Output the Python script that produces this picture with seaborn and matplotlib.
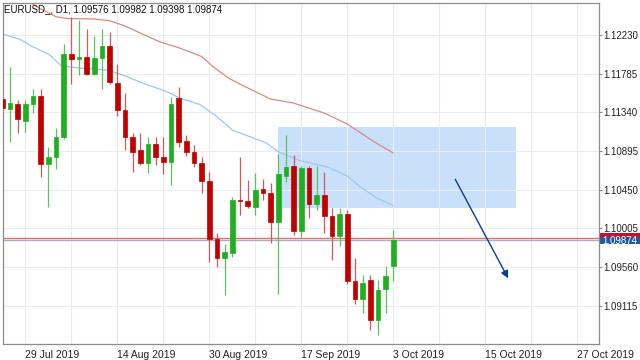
import numpy as np
import pandas as pd
import matplotlib
matplotlib.use('Agg')
import matplotlib.pyplot as plt
import matplotlib.transforms as mtransforms
from matplotlib.patches import Rectangle
import seaborn as sns

sns.set_style('white')
plt.rcParams['font.family'] = ['Liberation Sans', 'DejaVu Sans']

# daily candles, first bar sits 3 bars before 29 Jul 2019
first_bar = -3
opens = [1.11490, 1.11375, 1.11440, 1.11244, 1.11440, 1.11528, 1.10742, 1.10830, 1.11060, 1.12011,
         1.11958, 1.11973, 1.11781, 1.11969, 1.12107, 1.11681, 1.11367, 1.11052, 1.10907, 1.10753,
         1.10972, 1.10822, 1.10772, 1.11501, 1.11010, 1.10880, 1.10753, 1.10550, 1.09878, 1.09668,
         1.09725, 1.10331, 1.10320, 1.10254, 1.10454, 1.10416, 1.10082, 1.10611, 1.10726, 1.09974,
         1.10703, 1.10285, 1.10389, 1.10147, 1.09921, 1.10166, 1.09399, 1.09188, 1.09410, 1.08950,
         1.09303, 1.09576]
highs = [1.11520, 1.11866, 1.11482, 1.11482, 1.11605, 1.11605, 1.10945, 1.11156, 1.12126, 1.12440,
         1.12403, 1.12295, 1.12218, 1.12295, 1.12268, 1.11896, 1.11566, 1.11106, 1.11106, 1.11060,
         1.11060, 1.11052, 1.11520, 1.11628, 1.11079, 1.10964, 1.10830, 1.10657, 1.09948, 1.09825,
         1.10370, 1.10830, 1.10561, 1.10646, 1.10569, 1.10531, 1.10861, 1.11079, 1.10849, 1.10726,
         1.10726, 1.10726, 1.10657, 1.10235, 1.10235, 1.10216, 1.09660, 1.09468, 1.09468, 1.09410,
         1.09572, 1.09982]
lows = [1.11367, 1.11002, 1.11106, 1.11118, 1.11336, 1.10592, 1.10254, 1.10684, 1.11029, 1.11666,
        1.11770, 1.11770, 1.11770, 1.11605, 1.11670, 1.11298, 1.10907, 1.10657, 1.10734, 1.10646,
        1.10734, 1.10630, 1.10504, 1.10945, 1.10838, 1.10715, 1.10408, 1.09622, 1.09564, 1.09238,
        1.09679, 1.10159, 1.10235, 1.10159, 1.10331, 1.09840, 1.09249, 1.10542, 1.09928, 1.09902,
        1.10120, 1.10216, 1.09948, 1.09641, 1.09802, 1.09365, 1.09134, 1.09035, 1.08835, 1.08778,
        1.09027, 1.09398]
closes = [1.11386, 1.11444, 1.11263, 1.11432, 1.11532, 1.10742, 1.10830, 1.11060, 1.12011, 1.11954,
          1.11973, 1.11781, 1.11969, 1.12103, 1.11685, 1.11367, 1.11052, 1.10880, 1.10753, 1.10976,
          1.10830, 1.10772, 1.11432, 1.11002, 1.10887, 1.10753, 1.10550, 1.09882, 1.09668, 1.09729,
          1.10331, 1.10324, 1.10266, 1.10446, 1.10408, 1.10082, 1.10630, 1.10715, 1.09974, 1.10696,
          1.10285, 1.10389, 1.10147, 1.09921, 1.10170, 1.09399, 1.09188, 1.09372, 1.08950, 1.09295,
          1.09457, 1.09874]

# moving averages (bar position, price)
slow_ma_bar = [-3, 0, 2, 4, 5.5, 9, 11, 13, 15, 17.5, 20, 23, 24.5, 26.5, 28.5, 32, 35, 39, 42, 45.5, 48]
slow_ma = [1.12800, 1.12640, 1.12530, 1.12441, 1.12420, 1.12414, 1.12395, 1.12334, 1.12253, 1.12153,
           1.12084, 1.11983, 1.11865, 1.11735, 1.11643, 1.11494, 1.11447, 1.11332, 1.11206, 1.11002, 1.10872]
fast_ma_bar = [-3, -0.7, 1, 3.2, 4.7, 7.5, 9.7, 11, 12.7, 15.4, 18.5, 20.2, 22.8, 25, 27, 29.3, 31.5,
               33, 35.8, 39.4, 42, 43.7, 45.9, 48]
fast_ma = [1.12242, 1.12180, 1.12095, 1.12000, 1.11873, 1.11847, 1.11835, 1.11819, 1.11770, 1.11674,
           1.11577, 1.11502, 1.11430, 1.11290, 1.11137, 1.11060, 1.10984, 1.10887, 1.10786, 1.10711,
           1.10607, 1.10484, 1.10351, 1.10268]

date_ticks = [0, 12, 24, 36, 48, 60, 72]
date_labels = ['29 Jul 2019', '14 Aug 2019', '30 Aug 2019', '17 Sep 2019',
               '3 Oct 2019', '15 Oct 2019', '27 Oct 2019']
grid_bars = [6, 18, 30, 42, 54, 66]
price_ticks = [1.12230, 1.11785, 1.11340, 1.10895, 1.10450, 1.10005, 1.09560, 1.09115]

bid = 1.09874
ask = 1.09894
zone_bars = [33, 64]
zone_prices = [1.10236, 1.11168]
arrow_from = (56.1, 1.10569)
arrow_to = (63.0, 1.09430)

df = pd.DataFrame({'open': opens, 'high': highs, 'low': lows, 'close': closes})
df['bar'] = np.arange(first_bar, first_bar + len(df))
df['up'] = df['close'] >= df['open']

fig = plt.figure(figsize=(6.4, 3.6), dpi=100)
ax = fig.add_axes([2.7 / 640, 16 / 360, 596.3 / 640, 341.3 / 360])

# supply zone
ax.add_patch(Rectangle((zone_bars[0], zone_prices[0]), zone_bars[1] - zone_bars[0],
                       zone_prices[1] - zone_prices[0], color='#c8e0fa', lw=0, zorder=0.5))

# moving averages
sns.lineplot(x=slow_ma_bar, y=slow_ma, ax=ax, color='#d98a84', lw=0.9, zorder=1)
sns.lineplot(x=fast_ma_bar, y=fast_ma, ax=ax, color='#9cc9e6', lw=0.9, zorder=1)

# candles
wick_col = np.where(df['up'], '#5cc25c', '#cf5a5a')
body_col = np.where(df['up'], '#1faf1f', '#c20000')
ax.vlines(df['bar'], df['low'], df['high'], colors=wick_col, lw=0.9, zorder=2)
body_lo = np.minimum(df['open'], df['close'])
body_h = np.abs(df['close'] - df['open'])
ax.bar(df['bar'], body_h, bottom=body_lo, width=0.6, color=body_col,
       edgecolor=body_col, lw=0.5, zorder=3)

# bid / ask lines
ax.axhline(ask, color='#e07070', lw=1, zorder=1.5)
ax.axhline(bid, color='#a8b0bd', lw=1, zorder=1.5)

ax.annotate('', xy=arrow_to, xytext=arrow_from,
            arrowprops=dict(arrowstyle='-|>', color='#0b3d91', lw=1,
                            mutation_scale=11, shrinkA=0, shrinkB=0), zorder=4)

ax.set_xticks(date_ticks)
ax.set_xticklabels(date_labels, ha='left', fontsize=7.5, color='#222222')
ax.set_xticks(grid_bars, minor=True)
ax.yaxis.tick_right()
ax.set_yticks(price_ticks)
ax.set_yticklabels(['%.5f' % p for p in price_ticks], fontsize=7, color='#222222')
ax.tick_params(axis='x', which='major', length=3, width=0.8, color='#8c8c8c', pad=1)
ax.tick_params(axis='x', which='minor', length=0)
ax.tick_params(axis='y', length=2, width=0.8, color='#8c8c8c', pad=1)
ax.grid(True, which='both', color='#ececec', lw=0.8)
ax.set_axisbelow(True)
for s in ax.spines.values():
    s.set_color('#8c8c8c')
    s.set_linewidth(0.9)

# price label at right edge
trans = mtransforms.blended_transform_factory(ax.transAxes, ax.transData)
ax.add_patch(Rectangle((1.0, 1.09909), 0.07, 0.00040, transform=trans,
                       clip_on=False, color='#c8102e', lw=0))
ax.add_patch(Rectangle((1.0, 1.09821), 0.07, 0.00088, transform=trans,
                       clip_on=False, color='#1f5b9a', lw=0))
ax.text(1.0 + 3 / 596.3, 1.09865, '%.5f' % bid, transform=trans, color='white',
        fontsize=7, va='center', ha='left')

ax.text(1.3 / 596.3, 1 - 6.8 / 341.3,
        'EURUSD_, D1, %.5f %.5f %.5f %.5f' % (opens[-1], highs[-1], lows[-1], closes[-1]),
        transform=ax.transAxes, fontsize=7, va='center', ha='left', color='#111111')

# limits last so nothing widens them
ax.set_xlim(-2.95, 74.85)
ax.set_ylim(1.08674, 1.12602)

plt.savefig('out.png', dpi=100)
